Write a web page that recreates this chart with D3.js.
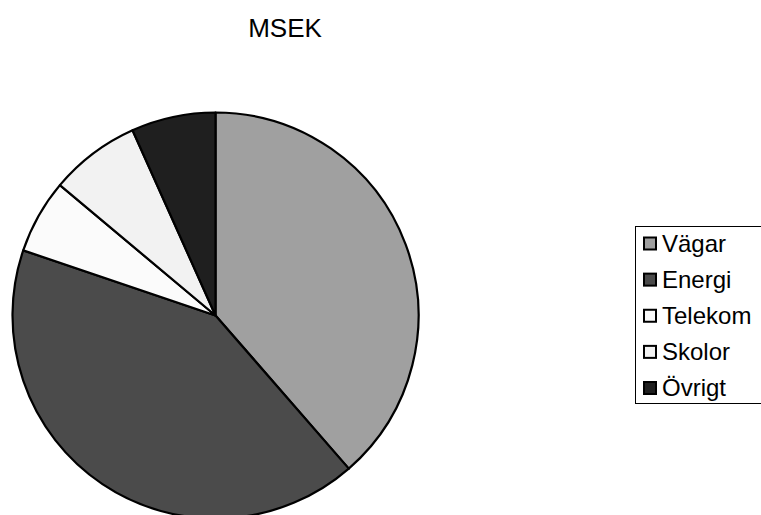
<!DOCTYPE html>
<html>
<head>
<meta charset="utf-8">
<script src="https://cdn.jsdelivr.net/npm/d3@7"></script>
<style>
  html, body { margin: 0; padding: 0; background: #fff; }
  svg { display: block; }
  text { font-family: "Liberation Sans", Arial, sans-serif; fill: #000; }
</style>
</head>
<body>
<svg id="chart" width="761" height="515"></svg>
<script>
// Data (shares, MSEK)
const categories = ["Vägar", "Energi", "Telekom", "Skolor", "Övrigt"];
const values = [38.6, 41.6, 5.9, 7.2, 6.7];
const colors = ["#a0a0a0", "#4b4b4b", "#fbfbfb", "#f2f2f2", "#1f1f1f"];
const title = "MSEK";

const svg = d3.select("#chart");
const W = 761, H = 515;
svg.append("rect").attr("width", W).attr("height", H).attr("fill", "#fff");

const cx = 215.5, cy = 315.5, r = 203;

const color = d3.scaleOrdinal().domain(categories).range(colors);

const pie = d3.pie().sort(null).value(d => d.value);
const arc = d3.arc().innerRadius(0).outerRadius(r);
const data = categories.map((c, i) => ({ name: c, value: values[i] }));

const g = svg.append("g").attr("transform", `translate(${cx},${cy})`);
g.selectAll("path.slice")
  .data(pie(data))
  .join("path")
  .attr("class", "slice")
  .attr("d", arc)
  .attr("fill", d => color(d.data.name))
  .attr("stroke", "#000")
  .attr("stroke-width", 2.2)
  .attr("stroke-linejoin", "round");

// Title
svg.append("text")
  .attr("x", 285)
  .attr("y", 36.5)
  .attr("text-anchor", "middle")
  .attr("font-size", 26)
  .text(title);

// Legend
const lg = svg.append("g");
lg.append("rect")
  .attr("x", 635.5).attr("y", 226.5)
  .attr("width", 130).attr("height", 177)
  .attr("fill", "#fff")
  .attr("stroke", "#000")
  .attr("stroke-width", 1);

const rowY = d3.scalePoint().domain(categories).range([251.5, 396]);

const items = lg.selectAll("g.item")
  .data(categories)
  .join("g")
  .attr("class", "item");

items.append("rect")
  .attr("x", 644)
  .attr("y", d => rowY(d) - 14)
  .attr("width", 12).attr("height", 12)
  .attr("fill", d => color(d))
  .attr("stroke", "#000")
  .attr("stroke-width", 2);

items.append("text")
  .attr("x", 662)
  .attr("y", d => rowY(d))
  .attr("font-size", 24)
  .text(d => d);
</script>
</body>
</html>
